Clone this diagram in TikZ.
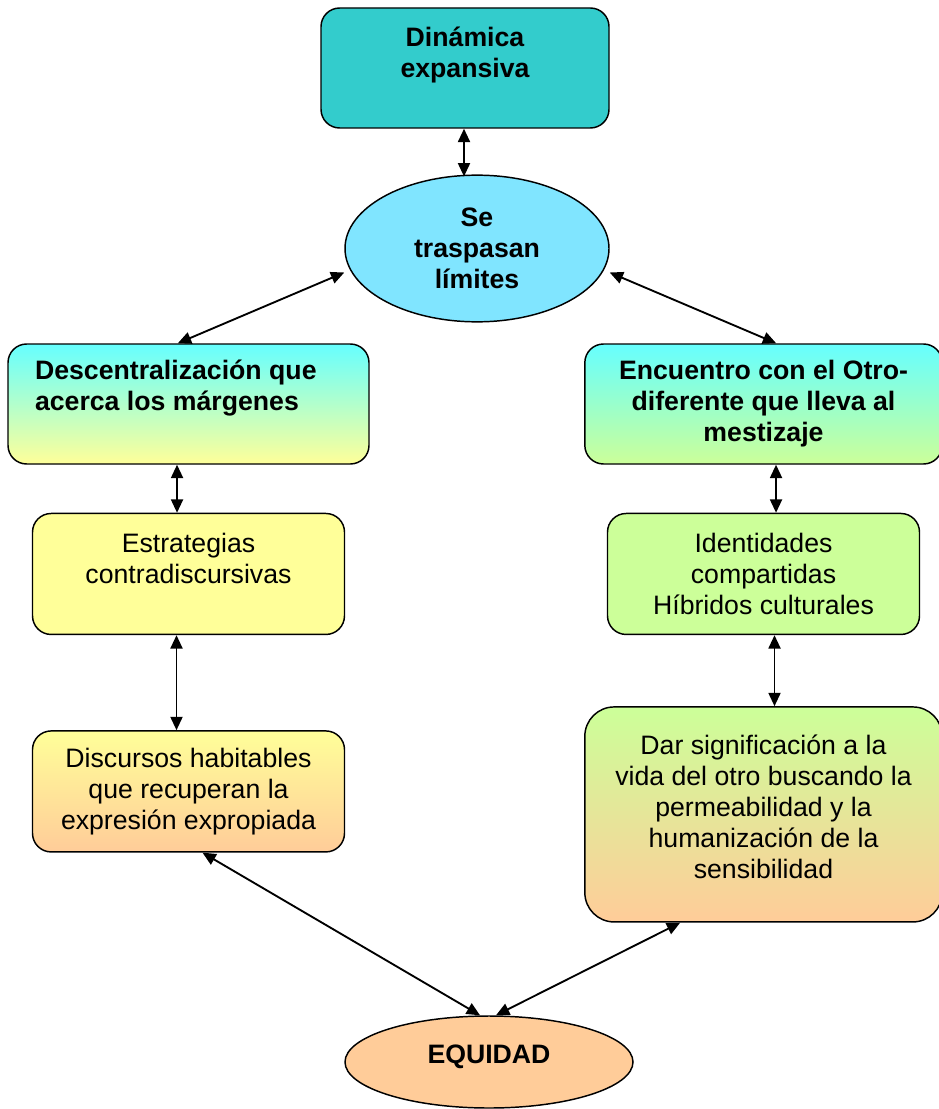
\documentclass[tikz,border=0pt]{standalone}
\usepackage{fontspec}
\setmainfont{Liberation Sans}
\usetikzlibrary{arrows.meta, positioning, shapes.geometric}

\definecolor{teal1}{HTML}{33CCCC}
\definecolor{sky1}{RGB}{128,229,255}
\definecolor{cyan1}{HTML}{66FFFF}
\definecolor{yel1}{HTML}{FFFF99}
\definecolor{green1}{HTML}{CCFF99}
\definecolor{peach1}{HTML}{FFCC99}

\begin{document}
\begin{tikzpicture}[
  x=0.75pt, y=-0.75pt,
  box/.style={draw, line width=1.1pt, rounded corners=14pt, align=center,
              inner sep=0pt, font=\fontsize{20}{23.25}\selectfont},
  oval/.style={draw, ellipse, line width=1.1pt, align=center, inner sep=0pt,
               font=\fontsize{20}{23.25}\selectfont\bfseries},
  arr/.style={{Triangle[length=10pt,width=9pt]}-{Triangle[length=10pt,width=9pt]}, line width=1.4pt}
]
\useasboundingbox (0,0) rectangle (938,1109);
\node[box, fill=teal1, font=\fontsize{20}{23.25}\selectfont\bfseries,
      minimum width=216pt, minimum height=90pt] (din) at (465,68)
  {Dinámica\\expansiva\\\mbox{}};
\node[oval, fill=sky1, minimum width=198pt, minimum height=110pt] (lim) at (477,248.5)
  {Se\\traspasan\\límites};
\node[box, top color=cyan1, bottom color=yel1, font=\fontsize{20}{23.25}\selectfont\bfseries,
      minimum width=270.75pt, minimum height=90pt] (desc) at (188.5,404)
  {\begin{tabular}{@{}l@{}}Descentralización que\\acerca los márgenes\\\mbox{}\end{tabular}\hspace*{19pt}};
\node[box, top color=cyan1, bottom color=green1, font=\fontsize{20}{23.25}\selectfont\bfseries,
      minimum width=268pt, minimum height=90pt] (enc) at (763.5,404)
  {Encuentro con el Otro-\\diferente que lleva al\\mestizaje};
\node[box, fill=yel1, minimum width=234pt, minimum height=90.75pt, below=36pt of desc] (est)
  {Estrategias\\contradiscursivas\\\mbox{}};
\node[box, top color=yel1, bottom color=peach1, minimum width=234pt, minimum height=90.75pt,
      below=71.25pt of est] (disc)
  {Discursos habitables\\que recuperan la\\expresión expropiada};
\node[box, fill=green1, minimum width=234pt, minimum height=90.75pt, below=36pt of enc] (ide)
  {Identidades\\compartidas\\Híbridos culturales};
\node[box, rounded corners=22pt, top color=green1, bottom color=peach1,
      minimum width=268pt, minimum height=161.25pt, below=53.25pt of ide] (dar)
  {Dar significación a la\\vida del otro buscando la\\permeabilidad y la\\humanización de la\\sensibilidad\\[-12pt]\mbox{}};
\node[oval, fill=peach1, minimum width=216pt, minimum height=69pt] (equ) at (489,1062)
  {EQUIDAD\\[-12pt]\mbox{}};
% connectors
\draw[arr] ([xshift=-0.75pt]din.south) -- ([xshift=-9.75pt,yshift=-1.5pt]lim.north);
\draw[arr] ([yshift=-18pt]lim.west) -- ([xshift=-8pt]desc.north);
\draw[arr] ([yshift=-18pt]lim.east) -- ([xshift=9.5pt]enc.north);
\draw[arr] ([xshift=-8.6pt]desc.south) -- ([xshift=-8.6pt]est.north);
\draw[arr] ([xshift=-9pt]est.south) -- ([xshift=-9pt]disc.north);
\draw[arr] ([xshift=9.4pt]enc.south) -- ([xshift=9.4pt]ide.north);
\draw[arr] ([xshift=8.25pt]ide.south) -- ([xshift=8.25pt]dar.north);
\draw[arr] ([xshift=10.5pt]disc.south) -- ([xshift=-6.75pt]equ.north);
\draw[arr] ([xshift=-62.5pt]dar.south) -- ([xshift=5.25pt]equ.north);
\end{tikzpicture}
\end{document}
